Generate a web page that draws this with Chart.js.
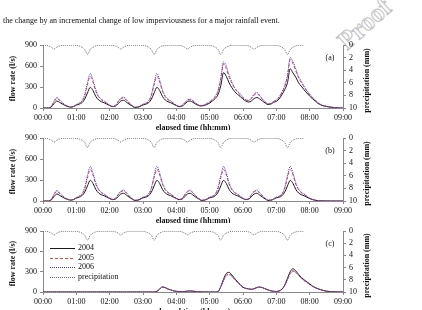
<!DOCTYPE html>
<html>
<head>
<meta charset="utf-8">
<script src="https://cdn.jsdelivr.net/npm/chart.js@4.4.1/dist/chart.umd.min.js"></script>
<style>
  html, body { margin: 0; padding: 0; background: #fff; }
  body { width: 422px; height: 310px; overflow: hidden; position: relative; }
  canvas { position: absolute; left: 0; }
  #caption { position: absolute; left: 3px; top: 16px; font: 8px/10px "Liberation Serif", serif; color: #111; white-space: nowrap;
             will-change: transform; background: #fff; }
  #wm { position: absolute; left: 352px; top: 26px; font: bold 26px "Liberation Serif", serif; color: transparent;
        -webkit-text-stroke: 1px #c0c0c0; transform-origin: 0 100%; transform: rotate(-42deg); white-space: nowrap; }
</style>
</head>
<body>
<div id="caption">the change by an incremental change of low imperviousness for a major rainfall event.</div>
<div id="wm">Proof</div>
<canvas id="panel-a" width="422" height="100" style="top:30px"></canvas>
<canvas id="panel-b" width="422" height="100" style="top:123px"></canvas>
<canvas id="panel-c" width="422" height="100" style="top:216px"></canvas>
<script>
// elapsed time in minutes (5 min steps)
const TIMES = [
  0, 5, 10, 15, 20, 25, 30, 35, 40, 45, 50, 55,
  60, 65, 70, 75, 80, 85, 90, 95, 100, 105, 110, 115,
  120, 125, 130, 135, 140, 145, 150, 155, 160, 165, 170, 175,
  180, 185, 190, 195, 200, 205, 210, 215, 220, 225, 230, 235,
  240, 245, 250, 255, 260, 265, 270, 275, 280, 285, 290, 295,
  300, 305, 310, 315, 320, 325, 330, 335, 340, 345, 350, 355,
  360, 365, 370, 375, 380, 385, 390, 395, 400, 405, 410, 415,
  420, 425, 430, 435, 440, 445, 450, 455, 460, 465, 470, 475,
  480, 485, 490, 495, 500, 505, 510, 515, 520, 525, 530, 535,
  540
];
const HOUR_LABELS = ["00:00", "01:00", "02:00", "03:00", "04:00", "05:00", "06:00", "07:00", "08:00", "09:00"];
const FLOW_TICKS = [0, 300, 600, 900];
const RAIN_TICKS = [0, 2, 4, 6, 8, 10];

// precipitation (mm), same storm for every panel, 00:00 - 07:50
const PRECIP = [
  0.05, 0.05, 0.15, 0.35, 0.65, 0.35, 0.15, 0.05, 0.05, 0.05, 0.05, 0.05,
  0.05, 0.15, 0.35, 0.7, 1.5, 0.7, 0.35, 0.15, 0.05, 0.05, 0.05, 0.05,
  0.05, 0.05, 0.15, 0.35, 0.65, 0.35, 0.15, 0.05, 0.05, 0.05, 0.05, 0.05,
  0.05, 0.15, 0.35, 0.7, 1.5, 0.7, 0.35, 0.15, 0.05, 0.05, 0.05, 0.05,
  0.05, 0.05, 0.15, 0.35, 0.65, 0.35, 0.15, 0.05, 0.05, 0.05, 0.05, 0.05,
  0.05, 0.15, 0.35, 0.7, 1.5, 0.7, 0.35, 0.15, 0.05, 0.05, 0.05, 0.05,
  0.05, 0.05, 0.15, 0.35, 0.65, 0.35, 0.15, 0.05, 0.05, 0.05, 0.05, 0.05,
  0.05, 0.15, 0.35, 0.7, 1.5, 0.7, 0.35, 0.15, 0.05, 0.05, 0.05
];

// (a) flow rate (l/s)
const A_2004 = [
  0, 0, 0, 15, 65, 100, 80, 55, 35, 20, 12, 20,
  40, 55, 75, 125, 215, 295, 250, 165, 115, 90, 75, 55,
  35, 20, 25, 60, 100, 110, 85, 55, 30, 8, 10, 25,
  45, 55, 75, 125, 215, 295, 250, 165, 115, 90, 75, 55,
  35, 20, 25, 55, 90, 100, 80, 55, 35, 30, 35, 50,
  70, 100, 135, 190, 320, 505, 450, 360, 290, 235, 195, 165,
  125, 100, 85, 100, 135, 150, 130, 100, 70, 50, 55, 80,
  95, 130, 190, 260, 360, 560, 500, 440, 360, 310, 260, 213,
  170, 133, 100, 65, 45, 30, 22, 15, 10, 6, 3, 1,
  0
];
const A_2005 = [
  0, 0, 0, 22, 90, 140, 105, 70, 42, 23, 14, 23,
  47, 65, 92, 175, 330, 450, 370, 240, 160, 118, 95, 66,
  38, 23, 33, 85, 130, 145, 112, 70, 38, 12, 12, 30,
  52, 66, 92, 175, 330, 450, 370, 240, 160, 118, 95, 66,
  38, 23, 33, 70, 110, 120, 100, 65, 42, 33, 42, 60,
  85, 115, 155, 230, 400, 630, 560, 440, 350, 280, 230, 190,
  145, 115, 105, 130, 185, 205, 170, 125, 85, 60, 62, 90,
  110, 150, 215, 300, 440, 690, 630, 530, 430, 365, 300, 240,
  190, 150, 110, 72, 48, 32, 23, 16, 10, 6, 3, 1,
  0
];
const A_2006 = [
  0, 0, 0, 25, 100, 150, 115, 75, 45, 25, 15, 25,
  50, 70, 100, 190, 360, 495, 400, 260, 170, 125, 100, 70,
  40, 25, 35, 90, 140, 155, 120, 75, 40, 13, 13, 32,
  55, 70, 100, 190, 360, 495, 400, 260, 170, 125, 100, 70,
  40, 25, 35, 75, 115, 128, 105, 70, 45, 35, 45, 65,
  90, 125, 170, 250, 430, 660, 600, 470, 370, 290, 240, 200,
  150, 120, 110, 140, 200, 222, 180, 130, 90, 62, 65, 95,
  115, 160, 230, 320, 470, 720, 660, 560, 450, 380, 310, 250,
  200, 155, 115, 75, 50, 33, 24, 16, 10, 6, 3, 1,
  0
];

// (b) flow rate (l/s)
const B_2004 = [
  0, 0, 0, 15, 65, 100, 80, 55, 35, 20, 12, 20,
  40, 55, 75, 125, 215, 295, 250, 165, 115, 90, 75, 55,
  35, 20, 25, 60, 100, 110, 85, 55, 30, 8, 10, 25,
  45, 55, 75, 125, 215, 295, 250, 165, 115, 90, 75, 55,
  35, 20, 25, 60, 100, 110, 85, 55, 30, 8, 10, 25,
  45, 55, 75, 125, 215, 295, 250, 165, 115, 90, 75, 55,
  35, 20, 25, 60, 100, 110, 85, 55, 30, 8, 10, 25,
  45, 55, 75, 125, 215, 295, 250, 165, 115, 90, 75, 55,
  35, 20, 10, 5, 3, 2, 1, 0, 0, 0, 0, 0,
  0
];
const B_2005 = [
  0, 0, 0, 22, 90, 140, 105, 70, 42, 23, 14, 23,
  47, 65, 92, 175, 330, 450, 370, 240, 160, 118, 95, 66,
  38, 23, 33, 85, 130, 145, 112, 70, 38, 12, 12, 30,
  52, 66, 92, 175, 330, 450, 370, 240, 160, 118, 95, 66,
  38, 23, 33, 85, 130, 145, 112, 70, 38, 12, 12, 30,
  52, 66, 92, 175, 330, 450, 370, 240, 160, 118, 95, 66,
  38, 23, 33, 85, 130, 145, 112, 70, 38, 12, 12, 30,
  52, 66, 92, 175, 330, 450, 370, 240, 160, 118, 95, 66,
  38, 23, 12, 6, 3, 2, 1, 0, 0, 0, 0, 0,
  0
];
const B_2006 = [
  0, 0, 0, 25, 100, 150, 115, 75, 45, 25, 15, 25,
  50, 70, 100, 190, 360, 495, 400, 260, 170, 125, 100, 70,
  40, 25, 35, 90, 140, 155, 120, 75, 40, 13, 13, 32,
  55, 70, 100, 190, 360, 495, 400, 260, 170, 125, 100, 70,
  40, 25, 35, 90, 140, 155, 120, 75, 40, 13, 13, 32,
  55, 70, 100, 190, 360, 495, 400, 260, 170, 125, 100, 70,
  40, 25, 35, 90, 140, 155, 120, 75, 40, 13, 13, 32,
  55, 70, 100, 190, 360, 495, 400, 260, 170, 125, 100, 70,
  40, 25, 13, 6, 3, 2, 1, 0, 0, 0, 0, 0,
  0
];

// (c) flow rate (l/s)
const C_2004 = [
  0, 0, 0, 0, 0, 0, 0, 0, 0, 0, 0, 0,
  0, 0, 0, 0, 0, 0, 0, 0, 0, 0, 0, 0,
  0, 0, 0, 0, 0, 0, 0, 0, 0, 0, 0, 0,
  0, 0, 0, 0, 0, 10, 45, 75, 65, 45, 30, 18,
  10, 6, 5, 8, 12, 15, 12, 8, 4, 2, 1, 0,
  0, 0, 0, 5, 80, 190, 275, 290, 250, 200, 150, 110,
  70, 55, 45, 40, 50, 68, 74, 65, 48, 32, 18, 10,
  8, 15, 40, 100, 200, 300, 344, 310, 260, 215, 180, 150,
  120, 88, 65, 48, 35, 22, 12, 8, 5, 3, 2, 1,
  0
];
const C_2005 = [
  0, 0, 0, 0, 0, 0, 0, 0, 0, 0, 0, 0,
  0, 0, 0, 0, 0, 0, 0, 0, 0, 0, 0, 0,
  0, 0, 0, 0, 0, 0, 0, 0, 0, 0, 0, 0,
  0, 0, 0, 0, 0, 9, 43, 72, 63, 44, 29, 17,
  10, 6, 5, 8, 12, 14, 11, 7, 4, 2, 1, 0,
  0, 0, 0, 5, 75, 175, 250, 265, 235, 190, 145, 105,
  68, 53, 44, 39, 48, 64, 70, 62, 46, 31, 17, 10,
  8, 14, 38, 95, 185, 280, 315, 295, 250, 205, 172, 144,
  115, 85, 63, 46, 33, 21, 12, 8, 5, 3, 2, 1,
  0
];
const C_2006 = [
  0, 0, 0, 0, 0, 0, 0, 0, 0, 0, 0, 0,
  0, 0, 0, 0, 0, 0, 0, 0, 0, 0, 0, 0,
  0, 0, 0, 0, 0, 0, 0, 0, 0, 0, 0, 0,
  0, 0, 0, 0, 0, 9, 42, 70, 62, 43, 28, 17,
  9, 6, 5, 7, 11, 13, 10, 7, 4, 2, 1, 0,
  0, 0, 0, 5, 72, 165, 240, 255, 228, 185, 140, 102,
  66, 52, 43, 38, 47, 62, 68, 60, 45, 30, 17, 10,
  8, 14, 37, 92, 180, 272, 305, 288, 245, 200, 168, 140,
  112, 83, 62, 45, 32, 20, 11, 7, 5, 3, 2, 1,
  0
];

const SERIF = '"Liberation Serif", "Times New Roman", serif';
const INK = "#111";
const AXIS = "#8a8a8a";
const BLACK = "#1a1a1a";
const RED = "#e2463e";
const BLUE = "#3c3cd2";
const GRAY = "#6e6e6e";
const PAD_TOP = 15;

function series(values) {
  return values.map((v, i) => ({ x: TIMES[i], y: v }));
}

// axis titles, panel letter and (optional) legend drawn by hand
const annotate = {
  id: "annotate",
  afterDraw(chart, args, opts) {
    const { ctx, chartArea: a } = chart;
    const midY = (a.top + a.bottom) / 2;
    ctx.save();
    ctx.fillStyle = INK;
    ctx.textBaseline = "middle";
    ctx.textAlign = "center";
    ctx.font = "bold 8px " + SERIF;

    ctx.save();
    ctx.translate(12.5, midY + 2);
    ctx.rotate(-Math.PI / 2);
    ctx.fillText("flow rate (l/s)", 0, 0);
    ctx.restore();

    ctx.save();
    ctx.translate(367, midY + 4);
    ctx.rotate(-Math.PI / 2);
    ctx.fillText("precipitation (mm)", 0, 0);
    ctx.restore();

    ctx.fillText("elapsed time (hh:mm)", (a.left + a.right) / 2, a.bottom + 19.5);

    ctx.font = "8px " + SERIF;
    ctx.fillText(opts.label, 330, a.top + 13);

    if (opts.legend) {
      ctx.textAlign = "left";
      const rows = [17, 26.5, 36, 45.5];
      chart.data.datasets.forEach((ds, i) => {
        const y = a.top + rows[i];
        ctx.save();
        ctx.strokeStyle = ds.borderColor;
        ctx.lineWidth = 1;
        ctx.setLineDash(ds.borderDash || []);
        ctx.beginPath();
        ctx.moveTo(50, Math.round(y) + 0.5);
        ctx.lineTo(75, Math.round(y) + 0.5);
        ctx.stroke();
        ctx.restore();
        ctx.fillText(ds.label, 78, y);
      });
    }
    ctx.restore();
  },
};

function makePanel(id, label, plotH, d04, d05, d06, showLegend) {
  const canvas = document.getElementById(id);
  const tickFont = { family: SERIF, size: 8 };
  return new Chart(canvas, {
    type: "line",
    data: {
      datasets: [
        { label: "2004", data: series(d04), borderColor: BLACK, borderWidth: 1, yAxisID: "y", order: 2 },
        { label: "2005", data: series(d05), borderColor: RED, borderWidth: 1, borderDash: [3, 2], yAxisID: "y", order: 1 },
        { label: "2006", data: series(d06), borderColor: BLUE, borderWidth: 1, borderDash: [1, 1], yAxisID: "y", order: 0 },
        { label: "precipitation", data: series(PRECIP), borderColor: GRAY, borderWidth: 1, borderDash: [1, 1], yAxisID: "y2", order: 3 },
      ],
    },
    options: {
      responsive: false,
      animation: false,
      devicePixelRatio: 1,
      layout: { padding: { top: PAD_TOP, left: 0, right: 0, bottom: 0 } },
      elements: {
        point: { radius: 0 },
        line: { cubicInterpolationMode: "monotone", fill: false },
      },
      plugins: {
        legend: { display: false },
        tooltip: { enabled: false },
        annotate: { label, legend: showLegend },
      },
      scales: {
        x: {
          type: "linear",
          min: 0,
          max: 540,
          afterFit: (s) => { s.height = 100 - PAD_TOP - plotH; },
          afterBuildTicks: (s) => { s.ticks = HOUR_LABELS.map((_, i) => ({ value: i * 60 })); },
          ticks: {
            callback: (v) => HOUR_LABELS[Math.round(v / 60)],
            font: tickFont, color: INK, maxRotation: 0, autoSkip: false, padding: 2,
          },
          grid: { drawOnChartArea: false, drawTicks: true, tickLength: 3, color: AXIS },
          border: { display: true, color: AXIS },
        },
        y: {
          position: "left",
          min: 0,
          max: 900,
          afterFit: (s) => { s.width = 43; },
          afterBuildTicks: (s) => { s.ticks = FLOW_TICKS.map((v) => ({ value: v })); },
          ticks: { font: tickFont, color: INK, padding: 3, autoSkip: false },
          grid: { drawOnChartArea: false, drawTicks: true, tickLength: 3, color: AXIS },
          border: { display: true, color: AXIS },
        },
        y2: {
          position: "right",
          reverse: true,
          min: 0,
          max: 10,
          afterFit: (s) => { s.width = 79; },
          afterBuildTicks: (s) => { s.ticks = RAIN_TICKS.map((v) => ({ value: v })); },
          ticks: { font: tickFont, color: INK, padding: 3, autoSkip: false },
          grid: { drawOnChartArea: false, drawTicks: true, tickLength: 3, color: AXIS },
          border: { display: true, color: AXIS },
        },
      },
    },
    plugins: [annotate],
  });
}

makePanel("panel-a", "(a)", 63, A_2004, A_2005, A_2006, false);
makePanel("panel-b", "(b)", 63, B_2004, B_2005, B_2006, false);
makePanel("panel-c", "(c)", 61, C_2004, C_2005, C_2006, true);
</script>
</body>
</html>
